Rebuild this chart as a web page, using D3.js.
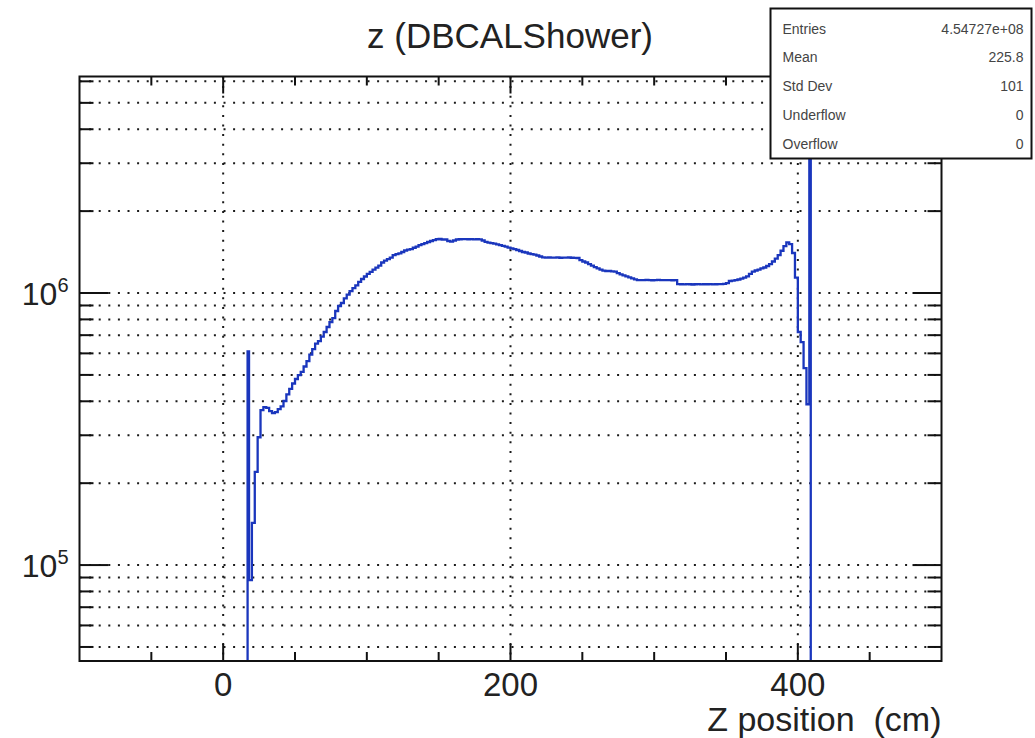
<!DOCTYPE html>
<html lang="en">
<head>
    <meta charset="UTF-8">
    <title>z (DBCALShower)</title>
    <script src="https://cdnjs.cloudflare.com/ajax/libs/d3/7.8.5/d3.min.js"></script>
    <style>
        body { margin: 0; background: #fff; }
        text { font-family: "Liberation Sans", Arial, Helvetica, sans-serif; }
    </style>
</head>
<body>
    <div id="wrapper"></div>
    <script>
        // histogram: 2 cm bins starting at z = 18 cm
        const zLow = 18
        const zBinWidth = 2
        const counts = [
            8.8e4, 1.43e5, 2.20e5, 2.95e5, 3.71e5, 3.81e5, 3.78e5, 3.68e5, 3.62e5, 3.65e5,
            3.74e5, 3.83e5, 4.01e5, 4.24e5, 4.44e5, 4.65e5, 4.83e5, 4.99e5, 5.13e5, 5.37e5,
            5.62e5, 5.94e5, 6.22e5, 6.52e5, 6.66e5, 6.91e5, 7.19e5, 7.50e5, 7.82e5, 8.09e5,
            8.59e5, 8.96e5, 9.19e5, 9.55e5, 9.87e5, 1.017e6, 1.043e6, 1.066e6, 1.098e6, 1.126e6,
            1.150e6, 1.175e6, 1.195e6, 1.220e6, 1.240e6, 1.262e6, 1.295e6, 1.316e6, 1.333e6, 1.350e6,
            1.379e6, 1.391e6, 1.399e6, 1.415e6, 1.433e6, 1.444e6, 1.451e6, 1.467e6, 1.480e6, 1.500e6,
            1.513e6, 1.526e6, 1.540e6, 1.553e6, 1.566e6, 1.576e6, 1.580e6, 1.573e6, 1.573e6, 1.553e6,
            1.546e6, 1.560e6, 1.573e6, 1.576e6, 1.577e6, 1.578e6, 1.576e6, 1.577e6, 1.575e6, 1.576e6,
            1.574e6, 1.560e6, 1.543e6, 1.533e6, 1.526e6, 1.520e6, 1.510e6, 1.500e6, 1.491e6, 1.481e6,
            1.469e6, 1.459e6, 1.451e6, 1.439e6, 1.427e6, 1.415e6, 1.409e6, 1.397e6, 1.391e6, 1.385e6,
            1.374e6, 1.362e6, 1.353e6, 1.350e6, 1.351e6, 1.349e6, 1.350e6, 1.352e6, 1.348e6, 1.350e6,
            1.349e6, 1.351e6, 1.348e6, 1.347e6, 1.345e6, 1.322e6, 1.306e6, 1.295e6, 1.278e6, 1.262e6,
            1.246e6, 1.231e6, 1.220e6, 1.208e6, 1.205e6, 1.205e6, 1.202e6, 1.198e6, 1.184e6, 1.171e6,
            1.161e6, 1.151e6, 1.142e6, 1.132e6, 1.123e6, 1.116e6, 1.116e6, 1.115e6, 1.117e6, 1.116e6,
            1.114e6, 1.116e6, 1.117e6, 1.115e6, 1.116e6, 1.115e6, 1.116e6, 1.114e6, 1.115e6, 1.079e6,
            1.077e6, 1.076e6, 1.078e6, 1.077e6, 1.075e6, 1.077e6, 1.078e6, 1.076e6, 1.077e6, 1.077e6,
            1.078e6, 1.076e6, 1.077e6, 1.078e6, 1.079e6, 1.081e6, 1.088e6, 1.107e6, 1.111e6, 1.116e6,
            1.121e6, 1.130e6, 1.140e6, 1.151e6, 1.175e6, 1.198e6, 1.210e6, 1.220e6, 1.231e6, 1.241e6,
            1.257e6, 1.278e6, 1.306e6, 1.339e6, 1.379e6, 1.430e6, 1.488e6, 1.535e6, 1.513e6, 1.403e6,
            1.140e6, 7.19e5, 6.60e5, 5.30e5, 3.90e5
        ]
        // narrow edge bins [lo, hi, count]
        const leadBin = [17, 18, 6.1e5]
        const tailBin = [408, 409, 2.5e7]

        const xDomain = [-100, 500]
        const yDomain = [4.44e4, 6.25e6]
        const xMajorTicks = [0, 200, 400]
        const xMinorTicks = [-50, 50, 100, 150, 250, 300, 350, 450]
        const yMajorTicks = [1e5, 1e6]
        const yMinorTicks = [5e4, 6e4, 7e4, 8e4, 9e4,
            2e5, 3e5, 4e5, 5e5, 6e5, 7e5, 8e5, 9e5,
            2e6, 3e6, 4e6, 5e6, 6e6]

        const titleText = 'z (DBCALShower)'
        const xLabel = 'Z position\u00a0\u00a0(cm)'
        const statNames = ['Entries', 'Mean', 'Std Dev', 'Underflow', 'Overflow']
        const statValues = ['4.54727e+08', '225.8', '101', '0', '0']

        let dimensions = {
            width: 1035,
            height: 738,
            margin: { top: 76.5, right: 93.5, bottom: 77, left: 79.5 }
        }
        dimensions.boundedWidth = dimensions.width - dimensions.margin.left - dimensions.margin.right
        dimensions.boundedHeight = dimensions.height - dimensions.margin.top - dimensions.margin.bottom

        const wrapper = d3.select('#wrapper')
            .append('svg')
                .attr('width', dimensions.width)
                .attr('height', dimensions.height)

        const bounds = wrapper.append('g')
            .attr('transform', `translate(${dimensions.margin.left},${dimensions.margin.top})`)

        const xScale = d3.scaleLinear()
            .domain(xDomain)
            .range([0, dimensions.boundedWidth])

        const yScale = d3.scaleLog()
            .domain(yDomain)
            .range([dimensions.boundedHeight, 0])

        // grid
        const gridStyle = g => g
            .attr('stroke', '#1a1a1a')
            .attr('stroke-width', 2)
            .attr('stroke-dasharray', '2 7.6')
            .attr('fill', 'none')

        bounds.append('g').call(gridStyle)
            .selectAll('line')
            .data(yMajorTicks.concat(yMinorTicks))
            .join('line')
                .attr('x1', 0)
                .attr('x2', dimensions.boundedWidth)
                .attr('y1', d => yScale(d))
                .attr('y2', d => yScale(d))

        bounds.append('g').call(gridStyle)
            .selectAll('line')
            .data(xMajorTicks)
            .join('line')
                .attr('x1', d => xScale(d))
                .attr('x2', d => xScale(d))
                .attr('y1', 0)
                .attr('y2', dimensions.boundedHeight)

        // histogram line
        const bins = [leadBin]
        counts.forEach((c, i) => bins.push([zLow + i * zBinWidth, zLow + (i + 1) * zBinWidth, c]))
        bins.push(tailBin)

        const floor = yDomain[0] / 2
        const points = [[bins[0][0], floor]]
            .concat(bins.map(b => [b[0], b[2]]))
            .concat([[bins[bins.length - 1][1], floor]])

        wrapper.append('defs').append('clipPath')
            .attr('id', 'frameClip')
            .append('rect')
                .attr('width', dimensions.boundedWidth)
                .attr('height', dimensions.boundedHeight)

        const lineGenerator = d3.line()
            .x(d => xScale(d[0]))
            .y(d => yScale(Math.max(d[1], floor)))
            .curve(d3.curveStepAfter)

        bounds.append('path')
            .attr('clip-path', 'url(#frameClip)')
            .attr('d', lineGenerator(points))
            .attr('fill', 'none')
            .attr('stroke', '#1a36bd')
            .attr('stroke-width', 2.3)

        // ticks, all pointing inward on the four sides
        const tickGroup = bounds.append('g')
            .attr('stroke', '#111')
            .attr('stroke-width', 2)
        const xTick = (vals, len) => {
            vals.forEach(v => {
                const x = xScale(v)
                tickGroup.append('line').attr('x1', x).attr('x2', x)
                    .attr('y1', dimensions.boundedHeight).attr('y2', dimensions.boundedHeight - len)
                tickGroup.append('line').attr('x1', x).attr('x2', x)
                    .attr('y1', 0).attr('y2', len)
            })
        }
        const yTick = (vals, len) => {
            vals.forEach(v => {
                const y = yScale(v)
                tickGroup.append('line').attr('x1', 0).attr('x2', len)
                    .attr('y1', y).attr('y2', y)
                tickGroup.append('line').attr('x1', dimensions.boundedWidth).attr('x2', dimensions.boundedWidth - len)
                    .attr('y1', y).attr('y2', y)
            })
        }
        xTick(xMajorTicks, 17)
        xTick(xMinorTicks, 9)
        yTick(yMajorTicks, 29)
        yTick(yMinorTicks, 14)

        // frame
        bounds.append('rect')
            .attr('width', dimensions.boundedWidth)
            .attr('height', dimensions.boundedHeight)
            .attr('fill', 'none')
            .attr('stroke', '#111')
            .attr('stroke-width', 2)

        // tick labels
        bounds.append('g')
            .selectAll('text')
            .data(xMajorTicks)
            .join('text')
                .attr('x', d => xScale(d))
                .attr('y', dimensions.boundedHeight + 35)
                .attr('text-anchor', 'middle')
                .style('font-size', '33px')
                .attr('fill', '#222')
                .text(d => d)

        const yLabels = bounds.append('g')
            .selectAll('text')
            .data(yMajorTicks)
            .join('text')
                .attr('x', -11)
                .attr('y', d => yScale(d) + 12)
                .attr('text-anchor', 'end')
                .attr('fill', '#222')
                .style('font-size', '32px')
        yLabels.append('tspan').text('10')
        yLabels.append('tspan')
            .attr('dy', -13)
            .style('font-size', '20px')
            .text(d => Math.round(Math.log10(d)))

        // axis title
        bounds.append('text')
            .attr('x', dimensions.boundedWidth)
            .attr('y', dimensions.boundedHeight + 70)
            .attr('text-anchor', 'end')
            .attr('fill', '#222')
            .style('font-size', '34px')
            .text(xLabel)

        // title
        wrapper.append('text')
            .attr('x', 510)
            .attr('y', 48)
            .attr('text-anchor', 'middle')
            .attr('fill', '#222')
            .style('font-size', '35px')
            .text(titleText)

        // stats box
        const stats = wrapper.append('g')
            .attr('transform', 'translate(770.5,8.5)')
        stats.append('rect')
            .attr('width', 261)
            .attr('height', 150)
            .attr('fill', '#fff')
            .attr('stroke', '#111')
            .attr('stroke-width', 2)
        const rowY = d3.scalePoint()
            .domain(statNames)
            .range([20, 135])
        stats.selectAll('text.name')
            .data(statNames)
            .join('text')
                .attr('class', 'name')
                .attr('x', 12)
                .attr('y', d => rowY(d) + 5)
                .style('font-size', '14px')
                .attr('fill', '#444')
                .text(d => d)
        stats.selectAll('text.value')
            .data(statValues)
            .join('text')
                .attr('class', 'value')
                .attr('x', 253)
                .attr('y', (d, i) => rowY(statNames[i]) + 5)
                .attr('text-anchor', 'end')
                .style('font-size', '14px')
                .attr('fill', '#444')
                .text(d => d)
    </script>
</body>
</html>
